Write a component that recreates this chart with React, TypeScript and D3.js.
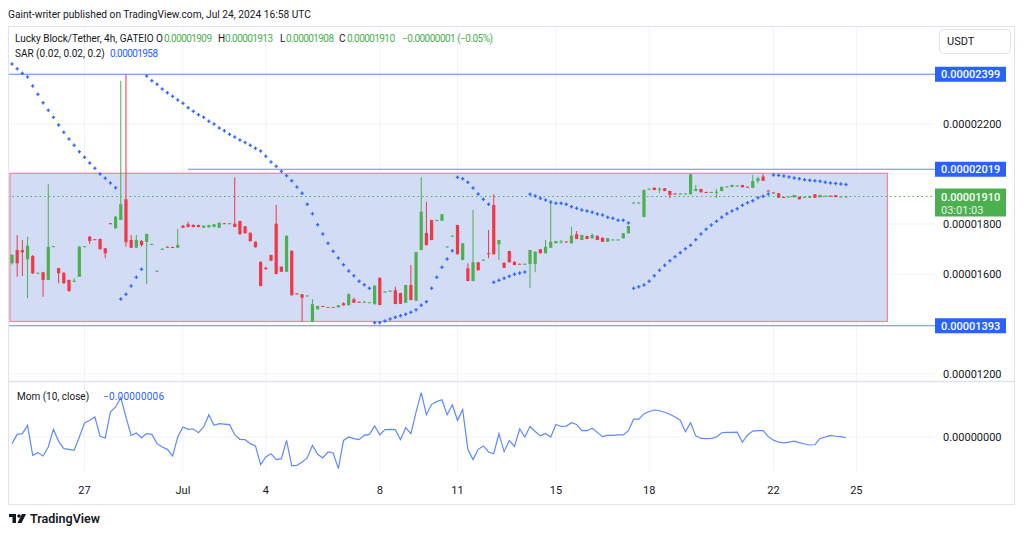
import React from 'react';
import * as d3 from 'd3';

// prices in units of 0.00000001 USDT, one entry per 4h bar
const opens = [
  1643, 1696, 1696, 1659, 1672, 1603, 1607, 1576, 1709, 1623,
  1605, 1576, 1569, 1589, 1709, 1749, 1739, 1740, 1703, 1803,
  1783, 1816, 1899, 1736, 1705, 1732, 1729, 1718, 1611, 1697,
  1709, 1708, 1705, 1793, 1799, 1796, 1796, 1785, 1787, 1788,
  1785, 1803, 1801, 1801, 1812, 1791, 1765, 1729, 1649, 1625,
  1676, 1801, 1629, 1609, 1693, 1522, 1519, 1512, 1409, 1459,
  1472, 1466, 1466, 1467, 1483, 1475, 1499, 1489, 1487, 1485,
  1479, 1585, 1528, 1531, 1535, 1524, 1485, 1556, 1493, 1696,
  1764, 1816, 1814, 1813, 1708, 1751, 1796, 1656, 1623, 1572,
  1647, 1655, 1683, 1876, 1719, 1645, 1692, 1649, 1641, 1639,
  1640, 1640, 1699, 1683, 1705, 1723, 1728, 1730, 1723, 1759,
  1736, 1752, 1743, 1753, 1745, 1729, 1736, 1736, 1743, 1763,
  1884, 1884, 1828, 1939, 1945, 1938, 1943, 1932, 1922, 1920,
  1920, 1919, 1932, 1940, 1928, 1926, 1926, 1932, 1948, 1948,
  1952, 1956, 1949, 1945, 1972, 1990, 1934, 1926, 1923, 1908,
  1908, 1907, 1909, 1907, 1905, 1919, 1907, 1911, 1913, 1915,
  1908, 1909,
];
const highs = [
  1680, 1756, 1736, 1749, 1676, 1606, 1609, 1960, 1712, 1625,
  1607, 1578, 1583, 1712, 1712, 1753, 1740, 1742, 1704, 1804,
  1832, 2373, 2399, 1756, 1756, 1736, 1762, 1721, 1614, 1703,
  1710, 1709, 1780, 1796, 1809, 1800, 1797, 1794, 1797, 1800,
  1806, 1804, 1804, 1987, 1813, 1792, 1766, 1730, 1650, 1629,
  1677, 1876, 1631, 1755, 1694, 1523, 1520, 1515, 1499, 1473,
  1473, 1469, 1469, 1476, 1487, 1523, 1505, 1490, 1493, 1488,
  1555, 1586, 1531, 1534, 1549, 1525, 1557, 1636, 1689, 1987,
  1889, 1817, 1817, 1840, 1711, 1754, 1797, 1724, 1643, 1856,
  1648, 1658, 1776, 1919, 1737, 1646, 1693, 1650, 1642, 1642,
  1697, 1690, 1700, 1736, 1889, 1733, 1736, 1731, 1789, 1772,
  1757, 1753, 1762, 1754, 1746, 1744, 1739, 1739, 1764, 1793,
  1887, 1887, 1938, 1942, 1947, 1946, 1944, 1933, 1923, 1923,
  1923, 2000, 1956, 1941, 1929, 1929, 1940, 1950, 1951, 1957,
  1955, 1957, 1950, 1996, 1989, 2000, 1935, 1927, 1924, 1909,
  1911, 1917, 1910, 1910, 1913, 1920, 1917, 1914, 1914, 1916,
  1911, 1913,
];
const lows = [
  1638, 1589, 1592, 1503, 1600, 1602, 1509, 1576, 1708, 1563,
  1561, 1529, 1567, 1589, 1708, 1720, 1736, 1698, 1663, 1800,
  1780, 1816, 1709, 1705, 1703, 1709, 1559, 1717, 1610, 1696,
  1706, 1706, 1705, 1784, 1787, 1787, 1787, 1784, 1786, 1787,
  1784, 1800, 1800, 1787, 1758, 1762, 1730, 1706, 1551, 1616,
  1652, 1599, 1608, 1608, 1514, 1519, 1409, 1511, 1408, 1458,
  1469, 1465, 1465, 1466, 1474, 1474, 1484, 1486, 1486, 1484,
  1478, 1475, 1527, 1530, 1479, 1480, 1484, 1495, 1492, 1695,
  1713, 1735, 1813, 1812, 1707, 1750, 1678, 1655, 1571, 1571,
  1614, 1654, 1663, 1678, 1656, 1624, 1646, 1635, 1638, 1638,
  1545, 1607, 1682, 1682, 1704, 1722, 1722, 1727, 1722, 1739,
  1735, 1739, 1742, 1735, 1728, 1728, 1735, 1735, 1742, 1762,
  1883, 1883, 1827, 1938, 1935, 1924, 1931, 1903, 1919, 1919,
  1919, 1918, 1931, 1926, 1925, 1925, 1905, 1931, 1947, 1947,
  1951, 1946, 1946, 1944, 1963, 1972, 1931, 1923, 1904, 1905,
  1907, 1906, 1898, 1906, 1904, 1904, 1906, 1910, 1910, 1907,
  1907, 1908,
];
const closes = [
  1676, 1643, 1687, 1713, 1603, 1605, 1576, 1709, 1711, 1603,
  1563, 1532, 1573, 1709, 1711, 1732, 1737, 1699, 1683, 1801,
  1829, 1879, 1727, 1705, 1736, 1716, 1760, 1720, 1613, 1701,
  1707, 1707, 1716, 1785, 1788, 1788, 1788, 1793, 1796, 1799,
  1805, 1801, 1803, 1788, 1759, 1763, 1731, 1707, 1552, 1620,
  1653, 1600, 1609, 1753, 1515, 1520, 1505, 1514, 1479, 1472,
  1470, 1468, 1468, 1475, 1475, 1519, 1485, 1487, 1489, 1487,
  1553, 1476, 1530, 1533, 1480, 1481, 1556, 1496, 1687, 1849,
  1716, 1736, 1816, 1839, 1710, 1753, 1679, 1723, 1572, 1647,
  1615, 1657, 1680, 1679, 1736, 1625, 1647, 1636, 1639, 1641,
  1696, 1689, 1683, 1709, 1729, 1732, 1730, 1728, 1753, 1740,
  1756, 1740, 1756, 1736, 1729, 1743, 1738, 1738, 1763, 1792,
  1886, 1886, 1936, 1941, 1936, 1941, 1932, 1916, 1920, 1922,
  1922, 1999, 1940, 1927, 1926, 1928, 1929, 1949, 1950, 1956,
  1954, 1947, 1947, 1972, 1983, 1973, 1932, 1924, 1905, 1906,
  1910, 1916, 1899, 1909, 1912, 1905, 1916, 1913, 1911, 1908,
  1910, 1910,
];
const sar = [
  2440, 2421, 2403, 2388, 2352, 2319, 2285, 2255, 2227, 2196,
  2167, 2140, 2115, 2089, 2067, 2044, 2023, 2000, 1983, 1964,
  1945, 1500, 1519, 1552, 1587, 1619, 2392, 2373, 2359, 2340,
  2325, 2311, 2296, 2283, 2265, 2251, 2237, 2227, 2211, 2200,
  2184, 2173, 2159, 2148, 2136, 2126, 2115, 2103, 2092, 2071,
  2048, 2031, 2011, 1993, 1973, 1948, 1923, 1879, 1841, 1797,
  1760, 1723, 1691, 1664, 1637, 1612, 1593, 1571, 1557, 1543,
  1405, 1405, 1412, 1420, 1427, 1433, 1439, 1447, 1457, 1475,
  1489, 1543, 1587, 1627, 1660, 1693, 1987, 1981, 1967, 1944,
  1920, 1899, 1879, 1567, 1575, 1583, 1591, 1599, 1604, 1608,
  1919, 1912, 1903, 1896, 1888, 1883, 1883, 1879, 1869, 1863,
  1856, 1852, 1847, 1840, 1836, 1827, 1823, 1815, 1815, 1804,
  1543, 1549, 1556, 1571, 1593, 1615, 1635, 1653, 1669, 1685,
  1701, 1715, 1737, 1760, 1779, 1796, 1811, 1827, 1841, 1852,
  1861, 1875, 1885, 1893, 1905, 1911, 1920, 1996, 1995, 1992,
  1988, 1984, 1981, 1977, 1975, 1973, 1971, 1967, 1964, 1962,
  1960, 1958,
];
// Mom (10, close), same units
const momentum = [
  -55, 22, 28, 96, -151, -129, -157, -83, 63, -36,
  -96, -102, -110, 0, 116, 138, 165, 6, -8, 206,
  248, 325, 165, 14, 33, -6, 28, 22, -55, -83,
  -102, -157, 0, 83, 63, 66, 36, 83, 184, 96,
  110, 107, 102, 19, -19, -22, -55, -74, -228, -165,
  -138, -187, -179, -28, -239, -234, -206, -173, -69, -143,
  -173, -124, -132, -261, -28, 0, -14, -22, 14, 22,
  91, 19, 61, 63, 61, -22, 77, 28, 206, 366,
  184, 270, 292, 308, 184, 267, 138, 226, -102, -187,
  -102, -74, -124, -138, 28, -121, -29, -78, 66, 0,
  87, 46, 9, 29, 0, 104, 87, 90, 118, 104,
  52, 52, 72, 38, 3, 14, 14, 17, 17, 52,
  147, 147, 191, 211, 223, 217, 205, 188, 165, 139,
  43, 118, 9, -12, -14, -12, 0, 35, 38, 38,
  40, -43, 17, 49, 52, 52, 3, -26, -43, -49,
  -43, -35, -46, -58, -66, -64, -12, 0, 14, 6,
  3, -6,
];

const timeLabels = ['27', 'Jul', '4', '8', '11', '15', '18', '22', '25'];
const timeLabelBars = [14, 33, 49, 71, 86, 105, 123, 147, 163];
const gridPrices = [1200, 1400, 1600, 1800, 2000, 2200, 2400];
const axisLabelPrices = [1200, 1600, 1800, 2200];
const levelPrices = [2399, 2019, 1393];
const levelStartBars = [-1, 34, -1];

const UP = '#4CAF50';
const DOWN = '#F23645';
const BLUE = '#2962FF';
const TEXT = '#131722';
const GRID = '#f0f3fa';
const FONT = 'Roboto, "Liberation Sans", sans-serif';

const fmt = (v: number) => (v / 1e8).toFixed(8);

export default function App() {
  const W = 1024;
  const H = 536;
  const left = 8;
  const paneRight = 935;
  const right = 1015;
  const mainTop = 26;
  const mainBottom = 381;
  const momBottom = 471;

  const x = d3.scaleLinear().domain([0, closes.length - 1]).range([12, 846]);
  const y = d3.scaleLinear().domain([1200, 2200]).range([374, 124]);
  const ym = d3.scaleLinear().domain([0, 300]).range([437, 400.7]);

  const bodyW = 3.2;
  const bars = closes.map((c, i) => ({ i, o: opens[i], h: highs[i], l: lows[i], c }));

  const momLine = d3.line<number>()
    .x((_, i) => x(i))
    .y(d => ym(d));

  const lastClose = closes[closes.length - 1];

  return (
    <svg width={W} height={H} style={{ position: 'absolute', left: 0, top: 0, display: 'block', background: '#fff' }}
      fontFamily={FONT}>
      <defs>
        <clipPath id="mainClip">
          <rect x={left} y={mainTop} width={paneRight - left} height={mainBottom - mainTop} />
        </clipPath>
        <clipPath id="momClip">
          <rect x={left} y={mainBottom} width={paneRight - left} height={momBottom - mainBottom} />
        </clipPath>
      </defs>

      <text x={8} y={18} fontSize={10.2} fill={TEXT}>
        Gaint-writer published on TradingView.com, Jul 24, 2024 16:58 UTC
      </text>

      {/* grid */}
      {gridPrices.map(p => (
        <line key={'hg' + p} x1={left} x2={paneRight} y1={y(p)} y2={y(p)} stroke={GRID} />
      ))}
      {timeLabelBars.map(b => (
        <line key={'vg' + b} x1={x(b)} x2={x(b)} y1={mainTop} y2={momBottom} stroke={GRID} />
      ))}
      <line x1={left} x2={paneRight} y1={ym(0)} y2={ym(0)} stroke={GRID} />

      <g clipPath="url(#mainClip)">
        {/* range box */}
        <rect x={x(-0.4)} y={y(2003)} width={x(169) - x(-0.4)} height={y(1410) - y(2003)}
          fill="#d3dcf5" stroke={DOWN} strokeOpacity={0.55} strokeWidth={1.2} />

        {/* horizontal levels */}
        {levelPrices.map((p, k) => (
          <line key={'lv' + p} x1={levelStartBars[k] < 0 ? left : x(levelStartBars[k])} x2={paneRight}
            y1={y(p)} y2={y(p)} stroke={BLUE} strokeOpacity={0.75} strokeWidth={1} />
        ))}

        {/* last price */}
        <line x1={left} x2={paneRight} y1={y(lastClose)} y2={y(lastClose)}
          stroke={UP} strokeDasharray="1.5,3" strokeWidth={1} />

        {/* candles */}
        {bars.map(d => {
          const col = d.c >= d.o ? UP : DOWN;
          const top = y(Math.max(d.o, d.c));
          const bh = Math.max(1, Math.abs(y(d.o) - y(d.c)));
          return (
            <g key={'c' + d.i}>
              <line x1={x(d.i)} x2={x(d.i)} y1={y(d.h)} y2={y(d.l)} stroke={col} strokeWidth={1} />
              <rect x={x(d.i) - bodyW / 2} y={top} width={bodyW} height={bh} fill={col} />
            </g>
          );
        })}

        {/* parabolic SAR crosses */}
        {sar.map((s, i) => (
          <g key={'s' + i} stroke={BLUE} strokeWidth={1.2}>
            <line x1={x(i) - 1.7} x2={x(i) + 1.7} y1={y(s)} y2={y(s)} />
            <line x1={x(i)} x2={x(i)} y1={y(s) - 1.7} y2={y(s) + 1.7} />
          </g>
        ))}
      </g>

      {/* momentum */}
      <g clipPath="url(#momClip)">
        <path d={momLine(momentum) || ''} fill="none" stroke={BLUE} strokeOpacity={0.75} strokeWidth={1.2} />
      </g>

      {/* frame & separators */}
      <rect x={left + 0.5} y={mainTop + 0.5} width={right - left - 1} height={504 - mainTop} fill="none" stroke="#e0e3eb" />
      <line x1={left} x2={right} y1={mainBottom + 0.5} y2={mainBottom + 0.5} stroke="#e0e3eb" strokeWidth={1.5} />

      {/* legend */}
      <g fontSize={10}>
        <text x={15} y={42} fill={TEXT}>Lucky Block/Tether, 4h, GATEIO</text>
        <text x={156} y={42} fill={TEXT}>O</text>
        <text x={164} y={42} fill={UP} textLength={48}>{fmt(1909)}</text>
        <text x={218} y={42} fill={TEXT}>H</text>
        <text x={225} y={42} fill={UP} textLength={48}>{fmt(1913)}</text>
        <text x={280} y={42} fill={TEXT}>L</text>
        <text x={286} y={42} fill={UP} textLength={48}>{fmt(1908)}</text>
        <text x={339} y={42} fill={TEXT}>C</text>
        <text x={347} y={42} fill={UP} textLength={48}>{fmt(lastClose)}</text>
        <text x={402} y={42} fill={UP} textLength={91}>−0.00000001 (−0.05%)</text>
        <text x={15} y={57} fill={TEXT}>SAR (0.02, 0.02, 0.2)</text>
        <text x={110} y={57} fill={BLUE} textLength={48}>{fmt(sar[sar.length - 1])}</text>
        <text x={17} y={400} fill={TEXT}>Mom (10, close)</text>
        <text x={103} y={400} fill={BLUE} textLength={61}>−{fmt(-momentum[momentum.length - 1])}</text>
      </g>

      {/* price axis */}
      <rect x={939.5} y={29.5} width={71} height={24} rx={4} fill="#fff" stroke="#e0e3eb" />
      <text x={947} y={45} fontSize={11} fill={TEXT}>USDT</text>
      {axisLabelPrices.map(p => (
        <text key={'pt' + p} x={943} y={y(p) + 4} fontSize={11} fill={TEXT}>{fmt(p)}</text>
      ))}
      <text x={943} y={ym(0) + 4} fontSize={11} fill={TEXT}>0.00000000</text>
      {levelPrices.map(p => (
        <g key={'tag' + p}>
          <rect x={935} y={y(p) - 7.5} width={71} height={15} fill={BLUE} />
          <text x={941} y={y(p) + 4} fontSize={11} fill="#fff" fontWeight={500}>{fmt(p)}</text>
        </g>
      ))}
      <rect x={935} y={y(lastClose) - 8} width={71} height={28} fill={UP} />
      <text x={941} y={y(lastClose) + 4} fontSize={11} fill="#fff" fontWeight={500}>{fmt(lastClose)}</text>
      <text x={941} y={y(lastClose) + 17} fontSize={11} fill="#e3f3e4">03:01:03</text>

      {/* time axis */}
      {timeLabels.map((t, k) => (
        <text key={'tl' + t} x={x(timeLabelBars[k])} y={494} fontSize={11} fill={TEXT} textAnchor="middle">{t}</text>
      ))}

      {/* logo */}
      <g transform="translate(9,514)" fill={TEXT}>
        <path d="M0 0 H7 V9 H3.5 V3 H0 Z" />
        <circle cx={10} cy={2} r={1.8} />
        <path d="M13 0 H17 L12.5 9 H8.5 Z" />
      </g>
      <text x={30} y={523} fontSize={12.5} fontWeight={600} fill={TEXT}>TradingView</text>
    </svg>
  );
}
